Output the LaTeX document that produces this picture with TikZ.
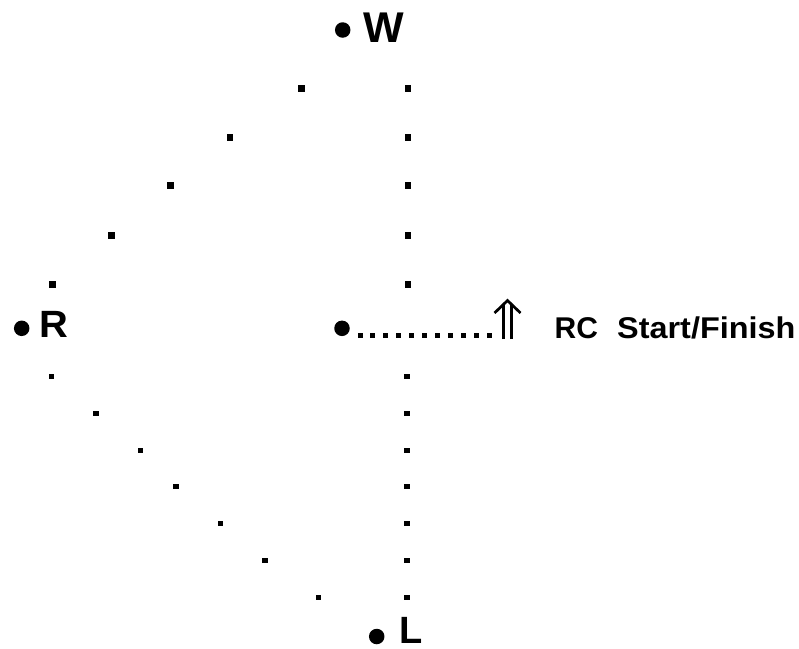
\documentclass[tikz,border=0pt]{standalone}
\usepackage{fontspec}
\setmainfont{Liberation Sans}
\begin{document}
\begin{tikzpicture}[x=1pt,y=-1pt,
  bullet/.style={circle,fill=black,inner sep=0pt,minimum size=15.5pt},
  bigletter/.style={anchor=base west,inner sep=0pt,font=\fontsize{38}{40}\selectfont\bfseries},
  label/.style={anchor=base west,inner sep=0pt,font=\fontsize{30}{32}\selectfont\bfseries},
  updot/.style={rectangle,fill=black,inner sep=0pt,minimum size=6.5pt},
  lowdot/.style={rectangle,fill=black,inner sep=0pt,minimum size=5.2pt},
  middot/.style={rectangle,fill=black,inner sep=0pt,minimum size=5pt}]
\useasboundingbox (0,0) rectangle (799,648);
% bullets
\node[bullet] (bw) at (342.7,30) {};
\node[bullet] (br) at (21.7,328.3) {};
\node[bullet] (bc) at (342,328.3) {};
\node[bullet] (bl) at (376.7,636.5) {};
% letters
\node[bigletter,font=\fontsize{43}{45}\selectfont\bfseries] (W) at (363,42) {W};
\node[bigletter] (R) at (39,337.5) {\scalebox{1.05}[1]{R}};
\node[bigletter] (L) at (399,643.5) {L};
% upper dots
\foreach \i/\x/\y in {1/301.7/88.7,2/230/137.7,3/170.7/185.7,4/111.3/235.7,5/52.3/284.7}
  \node[updot] (ul\i) at (\x,\y) {};
\foreach \i/\y in {1/88.7,2/137.7,3/185.7,4/235.7,5/284.7}
  \node[updot] (ur\i) at (408,\y) {};
% lower dots
\foreach \i/\x/\y in {1/51.7/376.3,2/96/413.3,3/140.3/450.3,4/176/486.3,5/220.3/523.3,6/265/560.3,7/318.3/597.3}
  \node[lowdot] (ll\i) at (\x,\y) {};
\foreach \i/\y in {1/376.3,2/413.3,3/450.3,4/486.3,5/523.3,6/560.3,7/597.3}
  \node[lowdot] (lr\i) at (407,\y) {};
% middle row dots
\foreach \i in {0,...,10}
  \node[middot] (m\i) at (360+12.9*\i,335) {};
% double arrow
\coordinate (apex) at (507.5,300.5);
\draw[line width=2.7pt,line join=miter] (494.5,313) -- (apex) -- (520.5,313);
\draw[line width=2.7pt] (503.3,339) -- (503.3,305);
\draw[line width=2.7pt] (511.7,339) -- (511.7,305);
% label
\node[label] (rc) at (554.5,338.3) {RC};
\node[label] (sf) at (617,338.3) {\scalebox{1.08}[1]{Start/Finish}};
\end{tikzpicture}
\end{document}
